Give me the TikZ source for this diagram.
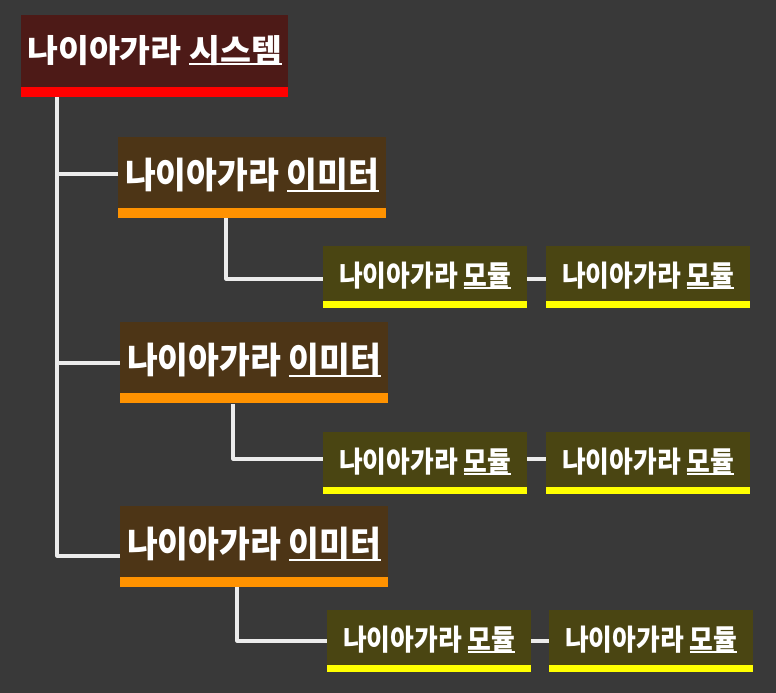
\documentclass[tikz,border=0pt]{standalone}
\usepackage{fontspec}
\newfontfamily\kr{Noto Sans CJK KR}
\definecolor{bg}{HTML}{393939}
\definecolor{sysbody}{HTML}{4D1A17}
\definecolor{sysbar}{HTML}{FF0000}
\definecolor{embody}{HTML}{4D3516}
\definecolor{embar}{HTML}{FF9200}
\definecolor{modbody}{HTML}{4A4512}
\definecolor{modbar}{HTML}{FFFF00}
\definecolor{wire}{HTML}{ECECEC}
\newcommand\ulw[1]{\setbox0\hbox{#1}\rlap{\rule[-0.09em]{\wd0}{0.055em}}\box0}
\tikzset{
  box/.style={draw=none, inner sep=0pt, anchor=north west, text=white,
    text height=0pt, text depth=0pt},
  barpic/.style 2 args={path picture={\fill[#1] ([yshift=#2]path picture bounding box.south west) rectangle (path picture bounding box.south east);}},
  sysbox/.style={box, fill=sysbody, minimum width=267pt, minimum height=82pt,
    font=\kr\bfseries\fontsize{32pt}{32pt}\selectfont, barpic={sysbar}{10pt}},
  embox/.style={box, fill=embody, minimum width=268pt, minimum height=81pt,
    font=\kr\bfseries\fontsize{36pt}{36pt}\selectfont, barpic={embar}{10pt}},
  modbox/.style={box, fill=modbody, minimum width=204pt, minimum height=62pt,
    font=\kr\bfseries\fontsize{29pt}{29pt}\selectfont, barpic={modbar}{7pt}},
  wireline/.style={draw=wire, line width=3.2pt, line join=round},
}
\newcommand\systext{\raisebox{-6pt}{\scalebox{1.05}[1]{나이아가라 \ulw{시스템}}}}
\newcommand\emtext{\raisebox{-11pt}{\scalebox{0.93}[1]{나이아가라 \ulw{이미터}}}}
\newcommand\modtext{\raisebox{-9pt}{\scalebox{0.89}[1]{나이아가라 \ulw{모듈}}}}
\begin{document}
\begin{tikzpicture}[x=1pt,y=-1pt]
\fill[bg] (0,0) rectangle (776,693);
\useasboundingbox (0,0) rectangle (776,693);
% nodes
\node[sysbox] (sys) at (21,15) {\systext};
\node[embox] (em1) at (118,137) {\emtext};
\node[embox] (em2) at (120,322) {\emtext};
\node[embox] (em3) at (120,506) {\emtext};
\node[modbox] (m1a) at (323,246) {\modtext};
\node[modbox] (m1b) at (546,246) {\modtext};
\node[modbox] (m2a) at (323,432) {\modtext};
\node[modbox] (m2b) at (546,432) {\modtext};
\node[modbox] (m3a) at (327,610) {\modtext};
\node[modbox] (m3b) at (549,610) {\modtext};
% junction coordinates
\coordinate (top) at (57,97);
\coordinate (j1) at (57,174);
\coordinate (j2) at (57,363);
\coordinate (j3) at (57,556);
\coordinate (e1) at (226,218);
\coordinate (e2) at (233,404);
\coordinate (e3) at (237,587);
\coordinate (k1) at (226,279);
\coordinate (k2) at (233,459);
\coordinate (k3) at (237,641);
% connectors
\draw[wireline] (top) -- (j3) -- (j3 -| em3.west);
\draw[wireline] (j1) -- (j1 -| em1.west);
\draw[wireline] (j2) -- (j2 -| em2.west);
\draw[wireline] (e1) -- (k1) -- (k1 -| m1a.west);
\draw[wireline] (e2) -- (k2) -- (k2 -| m2a.west);
\draw[wireline] (e3) -- (k3) -- (k3 -| m3a.west);
\draw[wireline] (k1 -| m1a.east) -- (k1 -| m1b.west);
\draw[wireline] (k2 -| m2a.east) -- (k2 -| m2b.west);
\draw[wireline] (k3 -| m3a.east) -- (k3 -| m3b.west);
\end{tikzpicture}
\end{document}
